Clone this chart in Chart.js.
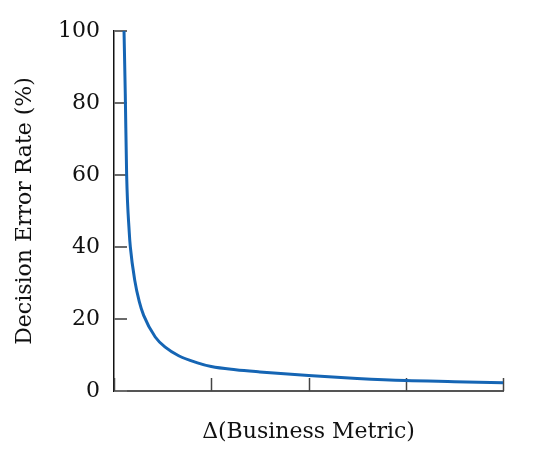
<!DOCTYPE html>
<html>
<head>
<meta charset="utf-8">
<script src="https://cdn.jsdelivr.net/npm/chart.js@4"></script>
<style>
  html, body { margin: 0; padding: 0; background: #fff; }
  #wrap { width: 554px; height: 459px; }
</style>
</head>
<body>
<div id="wrap"><canvas id="myChart"></canvas></div>
<script>
// values
const deltaValues = [0.103, 0.116, 0.130, 0.157, 0.168, 0.213, 0.26, 0.305, 0.424, 0.53, 0.665, 0.85, 1.0, 1.25, 1.5, 2.0, 2.5, 3.0, 3.5, 4.0]
const errorRates = [100, 82.5, 60, 44, 40, 30.8, 24.8, 21, 15.0, 12.1, 9.8, 7.9, 6.8, 5.9, 5.3, 4.3, 3.5, 2.9, 2.6, 2.3]
const yTicks = [0, 20, 40, 60, 80, 100]
const xTicks = [0, 1, 2, 3, 4]

const points = deltaValues.map((x, i) => ({x: x, y: errorRates[i]}))

const serif = "'DejaVu Serif', serif"

// short tick marks pointing into the plot, placed with the scales
const innerTicks = {
    id: 'innerTicks',
    beforeDatasetsDraw(chart) {
        const ctx = chart.ctx
        const {x, y} = chart.scales
        ctx.save()
        ctx.lineWidth = 2
        ctx.strokeStyle = '#6a6a6a'
        for (const v of yTicks) {
            const py = Math.round(y.getPixelForValue(v))
            ctx.beginPath()
            ctx.moveTo(x.left, py)
            ctx.lineTo(x.left + 13, py)
            ctx.stroke()
        }
        ctx.lineWidth = 1.5
        ctx.strokeStyle = '#444'
        for (const v of xTicks) {
            const px = Math.round(x.getPixelForValue(v)) + 0.5
            ctx.beginPath()
            ctx.moveTo(px, y.bottom)
            ctx.lineTo(px, y.bottom - 13)
            ctx.stroke()
        }
        ctx.restore()
    }
}

let data = {
    datasets: [{
        label: 'Decision Error Rate',
        data: points,
        borderColor: '#1565b4',
        borderWidth: 3,
        pointRadius: 0,
        fill: false,
        cubicInterpolationMode: 'monotone'
    }]
}

let config = {
    type: 'line',
    data: data,
    plugins: [innerTicks],
    options: {
        responsive: true,
        maintainAspectRatio: false,
        animation: false,
        layout: {padding: {top: 31, right: 51, left: 0, bottom: 0}},
        plugins: {legend: {display: false}, tooltip: {enabled: false}},
        scales: {
            x: {
                type: 'linear',
                min: 0,
                max: 4,
                ticks: {display: false, stepSize: 1},
                grid: {display: false, drawTicks: false},
                border: {display: true, color: '#555', width: 2},
                title: {
                    display: true,
                    text: 'Δ(Business Metric)',
                    color: '#111',
                    font: {family: serif, size: 22},
                    padding: {top: 0, bottom: 14}
                },
                afterFit: s => { s.height = 68 }
            },
            y: {
                min: 0,
                max: 100,
                afterBuildTicks: s => { s.ticks = yTicks.map(v => ({value: v})) },
                ticks: {color: '#111', padding: 14, font: {family: serif, size: 22}},
                grid: {display: false, drawTicks: false},
                border: {display: true, color: '#111', width: 1.5},
                title: {
                    display: true,
                    text: 'Decision Error Rate (%)',
                    color: '#111',
                    font: {family: serif, size: 22},
                    padding: {top: 12, bottom: 0}
                },
                afterFit: s => { s.width = 114 }
            }
        }
    }
}

let myChart = new Chart(document.getElementById('myChart'), config)
</script>
</body>
</html>
